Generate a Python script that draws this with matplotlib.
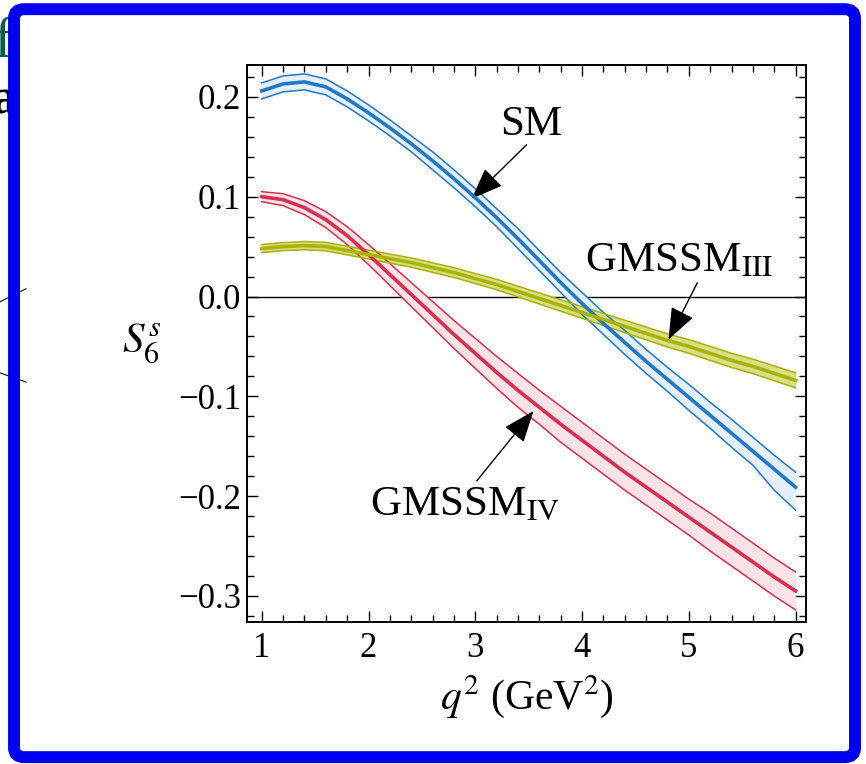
import numpy as np
import matplotlib.pyplot as plt
from matplotlib.patches import FancyBboxPatch
from matplotlib.lines import Line2D
from matplotlib.ticker import MultipleLocator, FuncFormatter

plt.rcParams['font.family'] = ['Liberation Serif', 'DejaVu Serif']
plt.rcParams['mathtext.fontset'] = 'stix'

# q^2 grid (GeV^2)
q2 = [1.0, 1.2, 1.4, 1.6, 1.8, 2.0, 2.2, 2.4, 2.6, 2.8, 3.0, 3.2, 3.4,
      3.6, 3.8, 4.0, 4.2, 4.4, 4.6, 4.8, 5.0, 5.2, 5.4, 5.6, 5.8, 6.0]

# SM: central value, upward and downward spread of the band
sm_mid = [0.206, 0.213, 0.215, 0.210, 0.198, 0.184, 0.169, 0.153, 0.136, 0.118, 0.099, 0.079, 0.058,
          0.036, 0.014, -0.007, -0.027, -0.046, -0.065, -0.083, -0.101, -0.119, -0.137, -0.155, -0.173, -0.191]
sm_up = [0.008, 0.008, 0.008, 0.008, 0.008, 0.008, 0.008, 0.008, 0.009, 0.009, 0.009, 0.009, 0.010,
         0.010, 0.010, 0.011, 0.011, 0.012, 0.012, 0.012, 0.013, 0.013, 0.014, 0.014, 0.014, 0.015]
sm_dn = [0.008, 0.008, 0.008, 0.008, 0.008, 0.008, 0.008, 0.008, 0.009, 0.009, 0.009, 0.009, 0.010,
         0.010, 0.010, 0.011, 0.011, 0.012, 0.012, 0.012, 0.013, 0.013, 0.014, 0.014, 0.021, 0.023]

# GMSSM IV
iv_mid = [0.100, 0.097, 0.089, 0.077, 0.061, 0.042, 0.022, 0.002, -0.018, -0.038, -0.057, -0.076, -0.094,
          -0.111, -0.128, -0.144, -0.160, -0.176, -0.191, -0.206, -0.221, -0.236, -0.251, -0.266, -0.281, -0.295]
iv_up = [0.005, 0.006, 0.007, 0.008, 0.009, 0.010, 0.011, 0.012, 0.013, 0.014, 0.015, 0.016, 0.017,
         0.017, 0.018, 0.018, 0.018, 0.018, 0.018, 0.018, 0.018, 0.019, 0.019, 0.019, 0.019, 0.019]
iv_dn = iv_up

# GMSSM III
iii_mid = [0.048, 0.050, 0.051, 0.050, 0.046, 0.042, 0.038, 0.034, 0.029, 0.024, 0.018, 0.012, 0.005,
           -0.002, -0.009, -0.016, -0.023, -0.030, -0.037, -0.044, -0.050, -0.057, -0.064, -0.070, -0.077, -0.084]
iii_up = [0.0040, 0.0040, 0.0041, 0.0042, 0.0043, 0.0044, 0.0045, 0.0046, 0.0047, 0.0049, 0.0050, 0.0052, 0.0053,
          0.0055, 0.0057, 0.0058, 0.0060, 0.0062, 0.0064, 0.0066, 0.0068, 0.0070, 0.0071, 0.0072, 0.0074, 0.0075]
iii_dn = iii_up

bands = [
    (sm_mid, sm_up, sm_dn, '#1f78c8', '#e6f0fa'),
    (iv_mid, iv_up, iv_dn, '#d7304f', '#fae3e7'),
    (iii_mid, iii_up, iii_dn, '#a9b300', '#d9de8a'),
]

fig = plt.figure(figsize=(8.66, 7.64), dpi=100)
ax = fig.add_axes([0.285, 0.186, 0.646, 0.729])

for mid, up, dn, col, fill in bands:
    mid = np.array(mid)
    hi = mid + np.array(up)
    lo = mid - np.array(dn)
    ax.fill_between(q2, lo, hi, color=fill, lw=0, zorder=2)
    ax.plot(q2, lo, color=col, lw=1.1, zorder=3)
    ax.plot(q2, hi, color=col, lw=1.1, zorder=3)
    ax.plot(q2, mid, color=col, lw=2.6, zorder=4)

ax.axhline(0, color='black', lw=1.0, zorder=1)

ax.set_xlim(0.86, 6.10)
ax.set_ylim(-0.326, 0.232)
ax.xaxis.set_major_locator(MultipleLocator(1))
ax.xaxis.set_minor_locator(MultipleLocator(0.2))
ax.yaxis.set_major_locator(MultipleLocator(0.1))
ax.yaxis.set_minor_locator(MultipleLocator(0.02))
ax.yaxis.set_major_formatter(FuncFormatter(lambda v, p: ('%.1f' % v).replace('-', '\u2212')))
ax.tick_params(which='both', direction='in', top=True, right=True, width=1.0, labelsize=25)
ax.tick_params(which='major', length=8)
ax.tick_params(axis='y', which='major', pad=4)
ax.tick_params(axis='x', which='major', pad=7)
ax.tick_params(which='minor', length=5)
for s in ax.spines.values():
    s.set_linewidth(1.4)

ax.set_xlabel(r'$q^2$ (GeV$^2$)', fontsize=30, labelpad=6)
ax.set_ylabel(r'$S_6^s$', fontsize=31, rotation=0, labelpad=26, va='center')

arrow = dict(arrowstyle='-|>,head_length=0.9,head_width=0.35', color='black',
             lw=1.0, mutation_scale=22, shrinkA=0, shrinkB=0)
ax.annotate('', xy=(2.967, 0.098), xytext=(3.48, 0.152), arrowprops=arrow)
ax.annotate('', xy=(4.81, -0.043), xytext=(5.08, 0.0137), arrowprops=arrow)
ax.annotate('', xy=(3.545, -0.1147), xytext=(3.014, -0.1847), arrowprops=arrow)

ax.text(3.23, 0.162, 'SM', fontsize=31, ha='left', va='baseline')
ax.text(4.03, 0.025, r'GMSSM$_{\mathrm{III}}$', fontsize=31, ha='left', va='baseline')
ax.text(2.013, -0.2197, r'GMSSM$_{\mathrm{IV}}$', fontsize=31, ha='left', va='baseline')

# slide fragments peeking out left of the frame
fig.text(-0.008, 0.925, 'f', fontsize=42, color='#0b5a4c')
fig.text(-0.010, 0.852, 'a', fontsize=36, color='black', weight='bold')
fig.lines.append(Line2D([0.0, 0.03], [0.605, 0.622], transform=fig.transFigure, color='black', lw=0.8))
fig.lines.append(Line2D([0.0, 0.03], [0.512, 0.500], transform=fig.transFigure, color='black', lw=0.8))

border = FancyBboxPatch((0.0162, 0.009), 0.9711, 0.979,
                        boxstyle='round,pad=0,rounding_size=0.012',
                        transform=fig.transFigure, lw=8.6,
                        edgecolor='#0000f0', facecolor='none', zorder=10)
fig.patches.append(border)

fig.savefig('out.png', dpi=100)
